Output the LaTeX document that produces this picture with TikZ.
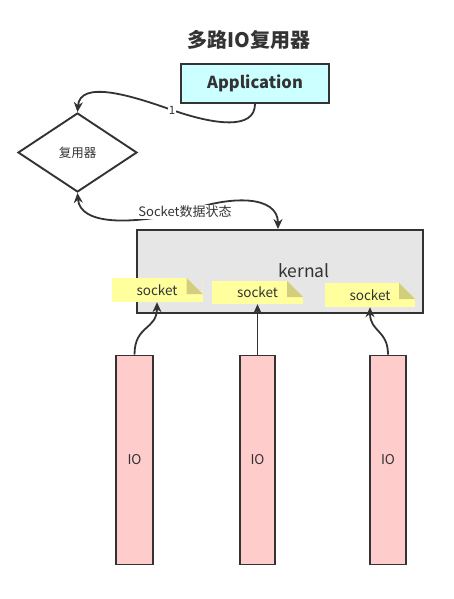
\documentclass[tikz,border=0pt]{standalone}
\usepackage{fontspec}
\setmainfont{Noto Sans CJK SC}
\usetikzlibrary{shapes.geometric,arrows.meta,calc}
\definecolor{dk}{HTML}{333333}
\definecolor{appc}{HTML}{CCFFFF}
\definecolor{kernbg}{HTML}{E6E6E6}
\definecolor{noteY}{HTML}{FFFF9E}
\definecolor{foldc}{HTML}{D2CE7C}
\definecolor{ioc}{HTML}{FFCCCC}
\tikzset{
  box/.style={draw=dk, line width=1.9pt, inner sep=0pt, text=dk},
  notebox/.style={rectangle, fill=noteY, inner sep=0pt, text=dk, font=\fontsize{13.5}{15}\selectfont,
    path picture={
      \fill[kernbg] (path picture bounding box.north east) -- ++(-16pt,0pt) -- ++(16pt,-16pt) -- cycle;
      \fill[foldc] ($(path picture bounding box.north east)+(-16pt,0pt)$) -- ++(0pt,-16pt) -- ++(16pt,0pt) -- cycle;
    }},
  arr/.style={draw=dk, line width=1.8pt, -{Stealth[length=10pt,width=9pt]}},
  arrb/.style={draw=dk, line width=1.8pt, {Stealth[length=10pt,width=9pt]}-{Stealth[length=10pt,width=9pt]}},
  lbl/.style={fill=white, inner sep=1pt, text=dk, font=\fontsize{13}{15}\selectfont},
}
\begin{document}
\begin{tikzpicture}[x=1pt,y=-1pt]
\useasboundingbox (0,0) rectangle (454,599);
\node[text=dk, font=\fontsize{20}{23}\selectfont\bfseries] (title) at (249,40) {多路IO复用器};
\node[box, fill=appc, minimum width=148pt, minimum height=39pt, font=\fontsize{16.5}{19}\selectfont\bfseries] (app) at (255,83.5) {Application};
\node[box, shape=diamond, fill=white, minimum width=119pt, minimum height=79pt, font=\fontsize{12.5}{14}\selectfont] (dia) at (77.5,152.5) {复用器};
\node[box, fill=kernbg, minimum width=286pt, minimum height=83pt] (kern) at (280,271.5) {};
\node[text=dk, font=\fontsize{17.5}{20}\selectfont] (kt) at (304,271) {kernal};
\node[notebox, minimum width=91pt, minimum height=24pt] (n1) at (157,290) {socket};
\node[notebox, minimum width=91pt, minimum height=23pt] (n2) at (257.5,292.5) {socket};
\node[notebox, minimum width=90pt, minimum height=24pt] (n3) at (370,295) {socket};
\node[box, fill=ioc, minimum width=37pt, minimum height=209pt, font=\fontsize{13.5}{15}\selectfont] (io1) at (134.5,460) {IO};
\node[box, fill=ioc, minimum width=35pt, minimum height=209pt, font=\fontsize{13.5}{15}\selectfont] (io2) at (257.5,460) {IO};
\node[box, fill=ioc, minimum width=36pt, minimum height=209pt, font=\fontsize{13.5}{15}\selectfont] (io3) at (388,460) {IO};
% connectors
\draw[arr] (app.south) .. controls (255,130) and (215,125) .. (172,110) node[lbl, font=\fontsize{11.5}{13}\selectfont]{1} .. controls (130,95) and (80,80) .. (dia.north);
\draw[arrb] (dia.south) .. controls (80,225) and (130,225) .. (185,212) node[lbl]{Socket数据状态} .. controls (230,195) and (278,195) .. (kern.north -| 278,0);
\draw[arr] (io1.north) .. controls (134.5,325) and (157,330) .. (n1.south);
\draw[arr] (io2.north) -- (n2.south);
\draw[arr] (io3.north) .. controls (388,330) and (370,332) .. (n3.south);
\end{tikzpicture}
\end{document}
